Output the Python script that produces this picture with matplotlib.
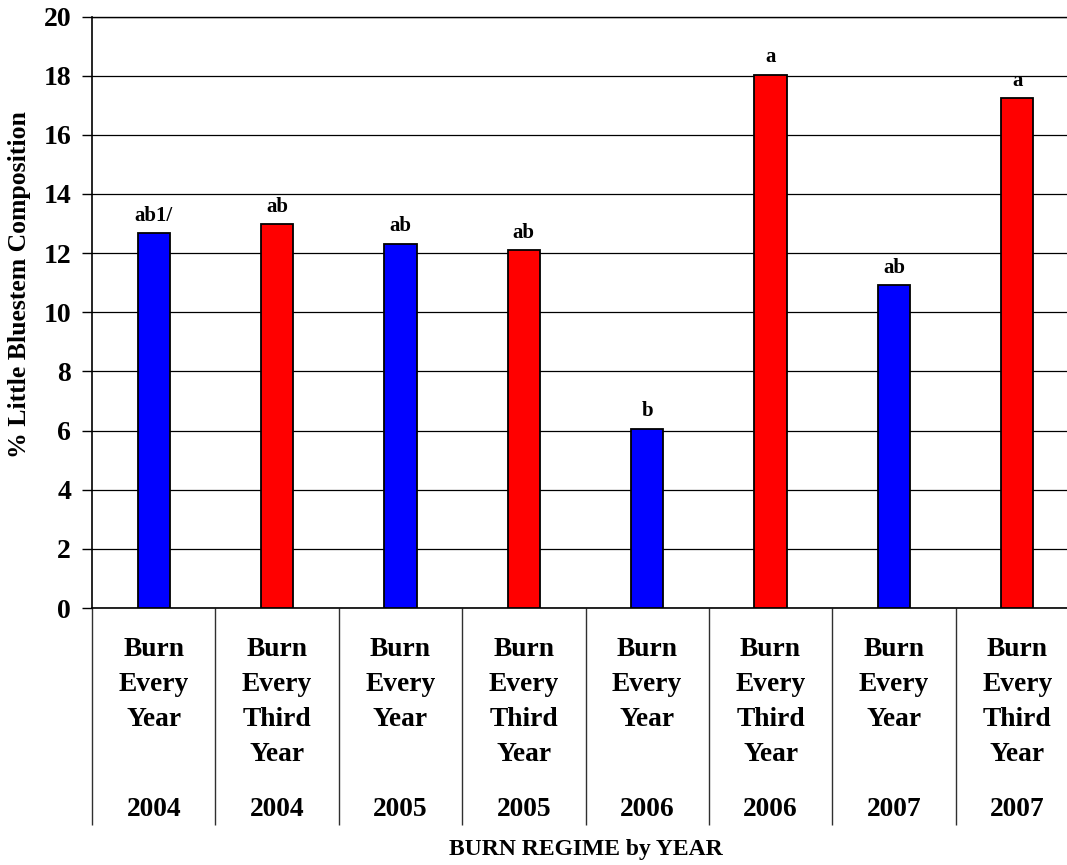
import matplotlib
matplotlib.use("Agg")
import matplotlib.pyplot as plt
from matplotlib.ticker import FixedLocator, MultipleLocator

plt.rcParams['font.family'] = ['Liberation Serif', 'DejaVu Serif']
plt.rcParams['font.weight'] = 'bold'

# Little bluestem composition by burn regime and year
regimes = ["Burn Every Year", "Burn Every Third Year",
           "Burn Every Year", "Burn Every Third Year",
           "Burn Every Year", "Burn Every Third Year",
           "Burn Every Year", "Burn Every Third Year"]
years = ["2004", "2004", "2005", "2005", "2006", "2006", "2007", "2007"]
values = [12.67, 12.98, 12.31, 12.10, 6.06, 18.03, 10.91, 17.23]
letters = ["ab1/", "ab", "ab", "ab", "b", "a", "ab", "a"]
bar_colors = ["#0000FF", "#FF0000", "#0000FF", "#FF0000",
              "#0000FF", "#FF0000", "#0000FF", "#FF0000"]

W, H = 1067, 865
fig = plt.figure(figsize=(W / 100, H / 100), dpi=100)

# plot frame in pixels (right edge runs past the canvas)
left_px, right_px, top_px, bottom_px = 92, 1079, 16.5, 608
ax_h_px = bottom_px - top_px
ax = fig.add_axes([left_px / W, (H - bottom_px) / H,
                   (right_px - left_px) / W, ax_h_px / H])

x = list(range(len(values)))
ax.bar(x, values, width=0.262, color=bar_colors, edgecolor="black",
       linewidth=1.3, zorder=3)

for xi, v, lab in zip(x, values, letters):
    ax.annotate(lab, (xi, v), xytext=(0, 9), textcoords="offset points",
                ha="center", va="baseline", fontsize=15, fontweight="bold")

ax.set_xlim(-0.5, len(values) - 0.5)
ax.set_ylim(0, 20)
ax.yaxis.set_major_locator(MultipleLocator(2))
ax.yaxis.grid(True, color="black", linewidth=0.9, zorder=0)
ax.set_axisbelow(True)

ax.tick_params(axis="y", which="major", direction="out", length=7,
               width=1, pad=8, labelsize=20)
for t in ax.get_yticklabels():
    t.set_fontweight("bold")

# category separators hang below the axis
ax.set_xticks([])
ax.xaxis.set_minor_locator(FixedLocator([i - 0.5 for i in range(len(values) + 1)]))
ax.tick_params(axis="x", which="minor", direction="out", length=156,
               width=1.0, color="#303030")
ax.tick_params(axis="x", which="major", length=0)

ax.spines["right"].set_visible(False)
ax.spines["top"].set_linewidth(1.0)
ax.spines["left"].set_linewidth(1.2)
ax.spines["bottom"].set_linewidth(1.2)


def frac(py):
    return (bottom_px - py) / ax_h_px


trans = ax.get_xaxis_transform()
first_line_px, line_step_px, year_px = 650, 34.7, 809
for xi, reg, yr in zip(x, regimes, years):
    for j, word in enumerate(reg.split(" ")):
        ax.text(xi, frac(first_line_px + j * line_step_px), word,
                transform=trans, ha="center", va="center",
                fontsize=19.8, fontweight="bold", clip_on=False)
    ax.text(xi, frac(year_px), yr, transform=trans, ha="center",
            va="center", fontsize=19.8, fontweight="bold", clip_on=False)

ax.set_xlabel("BURN REGIME by YEAR", fontsize=17, fontweight="bold")
ax.xaxis.set_label_coords((586 - left_px) / (right_px - left_px), frac(849))
ax.xaxis.label.set_va("center")

ax.set_ylabel("% Little Bluestem Composition", fontsize=18.5, fontweight="bold")
ax.yaxis.set_label_coords((20 - left_px) / (right_px - left_px), frac(285))
ax.yaxis.label.set_va("center")

fig.savefig("out.png", dpi=100)
